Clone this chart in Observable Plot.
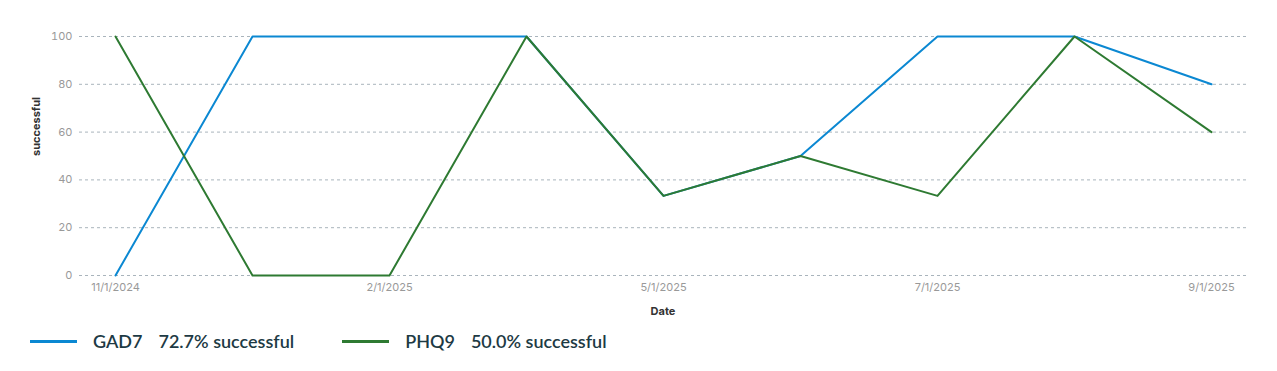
<!DOCTYPE html>
<html><head><meta charset="utf-8">
<script src="https://cdn.jsdelivr.net/npm/d3@7"></script>
<script src="https://cdn.jsdelivr.net/npm/@observablehq/plot@0.6"></script>
<style>
body{margin:0;background:#fff;}
#legend{display:flex;align-items:center;font-family:Lato,sans-serif;font-weight:600;font-size:18px;color:#1d3a44;height:42px;}
.item{display:flex;align-items:center;}
.sw{width:47px;height:3px;margin-right:16px;}
.nm{margin-right:16px;}
</style></head><body>
<div id="chart"></div>
<div id="legend"></div>
<script>
const dates = ["11/1/2024","12/1/2024","2/1/2025","3/1/2025","5/1/2025","6/1/2025","7/1/2025","8/1/2025","9/1/2025"];
const tickDates = ["11/1/2024","2/1/2025","5/1/2025","7/1/2025","9/1/2025"];
const gad7 = [0,100,100,100,33.3,50,100,100,80];
const phq9 = [100,0,0,100,33.3,50,33.3,100,60];
const seriesNames = ["GAD7","PHQ9"];
const seriesRates = ["72.7% successful","50.0% successful"];
const colors = ["#0b88d2","#2e7a32"];
const yTicks = [0,20,40,60,80,100];

const rows = [];
dates.forEach((d,i)=>{rows.push({date:d,v:gad7[i],s:"GAD7"});});
dates.forEach((d,i)=>{rows.push({date:d,v:phq9[i],s:"PHQ9"});});

const chart = Plot.plot({
  width:1277, height:320,
  marginLeft:79, marginRight:31, marginTop:36, marginBottom:45,
  style:{fontFamily:"Inter, sans-serif", fontSize:"11px", color:"#999", background:"#fff"},
  x:{type:"point", domain:dates, range:[113,1213], padding:0, label:null},
  y:{domain:[0,100], label:null},
  marks:[
    Plot.ruleY(yTicks,{stroke:"#a9b4bc",strokeDasharray:"3,3",strokeWidth:1}),
    Plot.axisY({ticks:yTicks, tickSize:0, tickPadding:7, label:null, fill:"#999"}),
    Plot.axisX({ticks:tickDates, tickSize:0, tickPadding:8, label:null, fill:"#999"}),
    Plot.text(["successful"],{frameAnchor:"left", dx:-43, rotate:-90, fontWeight:"bold", fill:"#333", fontSize:11}),
    Plot.text(["Date"],{frameAnchor:"bottom", dy:39, fontWeight:"bold", fill:"#333", fontSize:11}),
    Plot.line(rows,{x:"date",y:"v",z:"s",stroke:"s",strokeWidth:2}),
  ],
  color:{domain:seriesNames, range:colors}
});
document.getElementById("chart").appendChild(chart);

const lg = document.getElementById("legend");
seriesNames.forEach((n,i)=>{
  const it=document.createElement("div"); it.className="item";
  it.style.marginLeft = i===0 ? "30px" : "48px";
  it.innerHTML=`<div class="sw" style="background:${colors[i]}"></div><span class="nm">${n}</span><span>${seriesRates[i]}</span>`;
  lg.appendChild(it);
});
</script>
</body></html>
